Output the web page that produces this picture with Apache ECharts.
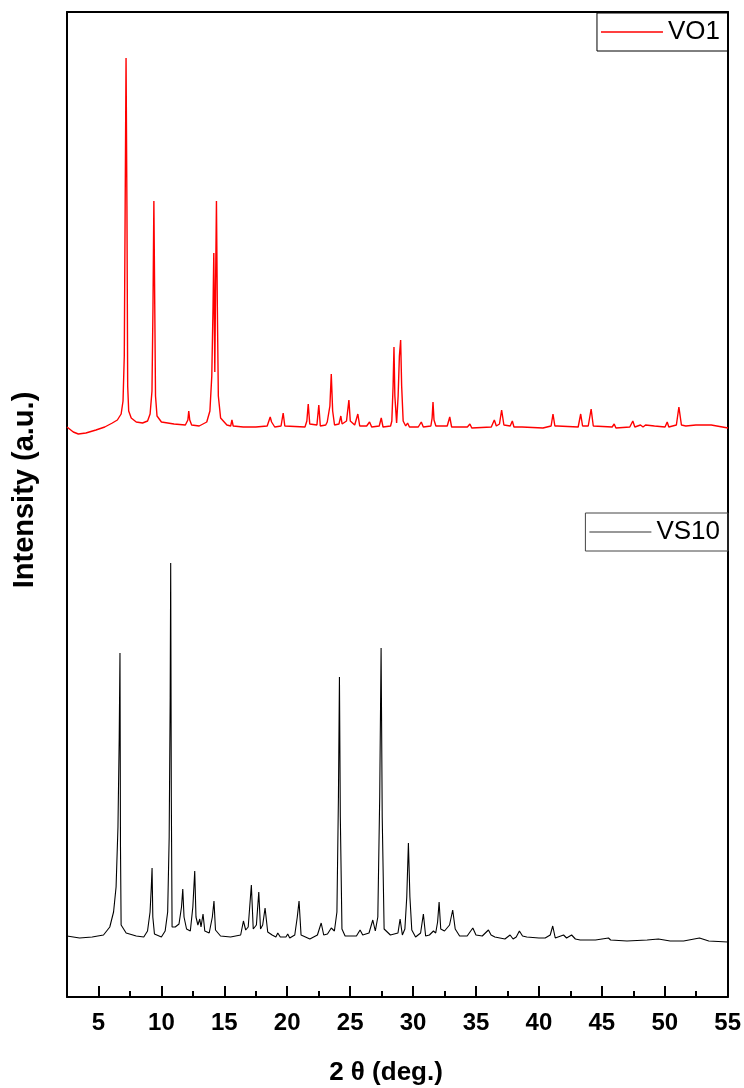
<!DOCTYPE html>
<html>
<head>
<meta charset="utf-8">
<script src="https://cdn.jsdelivr.net/npm/echarts@6/dist/echarts.min.js"></script>
<style>html,body{margin:0;padding:0;background:#fff;}#chart{width:744px;height:1088px;}</style>
</head>
<body>
<div id="chart"></div>
<script>
// Tick labels of the shared 2θ axis (every 2.5°, labels on multiples of 5)
const tickLabels = ['2.5','5','7.5','10','12.5','15','17.5','20','22.5','25','27.5','30','32.5','35','37.5','40','42.5','45','47.5','50','52.5','55'];

// VO1 pattern (2θ in degrees, intensity a.u.)
const vo1Theta = [2.5,3.0,3.4,4.0,4.8,5.5,6.1,6.5,6.8,6.95,7.05,7.12,7.19,7.26,7.32,7.4,7.6,8.0,8.5,8.9,9.1,9.25,9.33,9.4,9.47,9.53,9.65,10.0,11.0,11.9,12.1,12.17,12.25,12.4,13.0,13.6,13.85,14.0,14.1,14.16,14.24,14.3,14.37,14.44,14.52,14.7,15.2,15.5,15.6,15.7,16.5,17.5,18.4,18.64,18.75,18.85,19.0,19.5,19.67,19.8,21.4,21.55,21.66,21.78,22.35,22.5,22.62,23.05,23.17,23.3,23.38,23.49,23.6,23.75,24.1,24.25,24.35,24.45,24.7,24.89,25.0,25.35,25.6,25.75,26.3,26.53,26.7,27.3,27.46,27.6,28.2,28.3,28.4,28.47,28.54,28.68,28.8,28.9,29.0,29.08,29.2,29.4,29.55,29.7,30.4,30.64,30.8,31.4,31.5,31.57,31.65,31.8,32.7,32.9,33.05,34.0,34.1,34.3,34.5,34.65,36.2,36.44,36.6,36.85,37.02,37.2,37.7,37.87,38.0,38.64,40.3,40.95,41.1,41.25,41.45,43.1,43.3,43.45,43.9,44.13,44.3,45.8,45.96,46.1,47.2,47.44,47.6,48.05,48.25,48.45,48.6,49.16,50.0,50.17,50.3,50.9,51.1,51.3,51.65,52.45,53.67,55.0];
const vo1Int   = [79,74,72,73,76,79,83,86,92,105,150,300,448,300,120,95,88,84,83,85,92,115,200,305,200,110,90,84,82,81,86,95,86,81,80,84,95,130,200,253,134,220,305,200,110,88,81,80,86,80,79,79,80,89,84,85,79,80,93,80,79,85,102,82,81,101,80,81,84,84,100,132,95,81,82,90,82,83,85,106,85,81,92,80,80,84,79,80,88,79,80,85,120,159,110,83,110,150,166,120,85,80,83,79,79,84,79,80,88,104,86,80,80,89,79,79,81,79,82,78,79,86,80,82,96,81,80,85,79,79,78,80,92,80,80,79,92,80,80,97,80,79,82,78,79,85,79,81,79,81,79,80,79,84,79,81,99,81,80,81,81,78];

// VS10 pattern (2θ in degrees, intensity a.u.)
const vs10Theta = [2.5,3.5,4.5,5.4,5.9,6.2,6.4,6.55,6.65,6.71,6.75,6.8,7.2,8.0,8.6,8.9,9.1,9.2,9.26,9.32,9.45,10.0,10.3,10.5,10.62,10.7,10.74,10.79,10.85,11.1,11.4,11.6,11.7,11.8,12.0,12.3,12.5,12.65,12.75,12.9,13.05,13.15,13.31,13.45,13.8,14.05,14.18,14.3,14.7,15.5,16.3,16.52,16.7,16.9,17.15,17.3,17.55,17.74,17.88,18.05,18.24,18.45,18.8,19.1,19.25,19.45,19.9,20.04,20.2,20.6,20.8,20.94,21.1,21.8,22.4,22.7,22.9,23.2,23.5,23.75,23.95,24.07,24.15,24.22,24.35,24.6,25.5,25.79,26.0,26.5,26.8,27.0,27.2,27.35,27.46,27.55,27.7,28.2,28.8,28.97,29.15,29.35,29.5,29.63,29.75,29.9,30.2,30.6,30.82,31.0,31.3,31.62,31.8,31.95,32.07,32.2,32.5,32.9,33.15,33.35,33.7,34.3,34.75,35.0,35.5,35.99,36.2,36.5,37.3,37.71,37.95,38.2,38.45,38.7,39.04,40.0,40.5,40.9,41.1,41.3,41.96,42.2,42.6,42.9,43.28,44.5,45.53,45.7,47.0,48.6,49.5,50.43,51.5,52.76,53.5,55.0];
const vs10Int   = [61,59,60,62,70,85,110,170,260,344,150,72,64,61,60,66,85,110,129,80,63,60,66,85,160,300,434,200,70,70,73,90,108,80,68,66,90,126,80,72,78,70,83,66,64,80,96,67,61,60,62,76,67,70,112,68,72,105,68,72,89,65,62,60,64,60,60,63,59,62,80,96,62,58,62,74,62,63,69,66,85,200,320,180,68,61,61,67,62,64,77,66,80,200,349,180,68,62,64,78,62,68,100,154,100,67,60,64,83,61,62,66,64,75,95,68,66,72,87,68,61,61,69,62,61,67,62,60,58,62,58,60,66,61,60,59,59,62,71,59,62,59,62,58,57,57,59,57,56,57,58,56,56,59,56,55];

const FONT = '"Liberation Sans", Arial, sans-serif';
const pairs = (xs, ys) => xs.map((x, i) => [x, ys[i]]);

const chart = echarts.init(document.getElementById('chart'), null, {renderer: 'canvas'});
const hiddenBits = {axisTick: {show: false}, axisLabel: {show: false}, splitLine: {show: false}};
const blackLine = {show: true, onZero: false, lineStyle: {color: '#000', width: 2}};

chart.setOption({
  animation: false,
  backgroundColor: '#fff',
  grid: [
    {left: 67, right: 16, top: 12, height: 494},
    {left: 67, right: 16, top: 506, height: 491}
  ],
  xAxis: [
    Object.assign({type: 'value', gridIndex: 0, min: 2.5, max: 55, position: 'top', axisLine: blackLine}, hiddenBits),
    {type: 'value', gridIndex: 1, min: 2.5, max: 55, interval: 2.5, position: 'bottom',
     axisLine: blackLine,
     axisTick: {show: true, inside: true, length: 6, lineStyle: {color: '#000', width: 2}},
     axisLabel: {show: false}, splitLine: {show: false}},
    {type: 'category', gridIndex: 1, position: 'bottom', boundaryGap: false, data: tickLabels,
     axisLine: {show: false, onZero: false},
     axisTick: {show: true, inside: true, length: 11, interval: (i) => i % 2 === 1, lineStyle: {color: '#000', width: 2}},
     axisLabel: {show: true, interval: (i) => i % 2 === 1, margin: 14, color: '#000', fontFamily: FONT, fontWeight: 'bold', fontSize: 24},
     splitLine: {show: false}}
  ],
  yAxis: [
    Object.assign({type: 'value', gridIndex: 0, min: 0, max: 494, position: 'left', axisLine: blackLine}, hiddenBits),
    Object.assign({type: 'value', gridIndex: 0, min: 0, max: 494, position: 'right', axisLine: blackLine}, hiddenBits),
    Object.assign({type: 'value', gridIndex: 1, min: 0, max: 491, position: 'left', axisLine: blackLine}, hiddenBits),
    Object.assign({type: 'value', gridIndex: 1, min: 0, max: 491, position: 'right', axisLine: blackLine}, hiddenBits)
  ],
  legend: [
    {data: [{name: 'VO1', icon: 'rect'}], right: 16, top: 13, orient: 'vertical', itemWidth: 62, itemHeight: 1.4, itemGap: 0,
     padding: [6, 8, 6, 4], borderColor: '#000', borderWidth: 1, borderRadius: 0,
     itemStyle: {color: '#ff0000'},
     textStyle: {fontFamily: FONT, fontSize: 26, color: '#000'}},
    {data: [{name: 'VS10', icon: 'rect'}], right: 16, top: 513, orient: 'vertical', itemWidth: 62, itemHeight: 1.2, itemGap: 0,
     padding: [6, 8, 6, 4], borderColor: '#444', borderWidth: 1, borderRadius: 0,
     itemStyle: {color: '#333'},
     textStyle: {fontFamily: FONT, fontSize: 26, color: '#000'}}
  ],
  series: [
    {name: 'VO1', type: 'line', xAxisIndex: 0, yAxisIndex: 0, data: pairs(vo1Theta, vo1Int),
     symbol: 'none', smooth: false, lineStyle: {color: '#ff0000', width: 1.4}, itemStyle: {color: '#ff0000'}},
    {name: 'VS10', type: 'line', xAxisIndex: 1, yAxisIndex: 2, data: pairs(vs10Theta, vs10Int),
     symbol: 'none', smooth: false, lineStyle: {color: '#000', width: 1.1}, itemStyle: {color: '#000'}}
  ],
  graphic: [
    {type: 'text', x: 386, y: 1060, style: {text: '2 θ (deg.)', font: 'bold 26px ' + FONT, fill: '#000', align: 'center', verticalAlign: 'top'}},
    {type: 'text', x: 10, y: 490, rotation: Math.PI / 2, originX: 0, originY: 0,
     style: {text: 'Intensity (a.u.)', font: 'bold 29px ' + FONT, fill: '#000', align: 'center', verticalAlign: 'top'}}
  ]
});
</script>
</body>
</html>
